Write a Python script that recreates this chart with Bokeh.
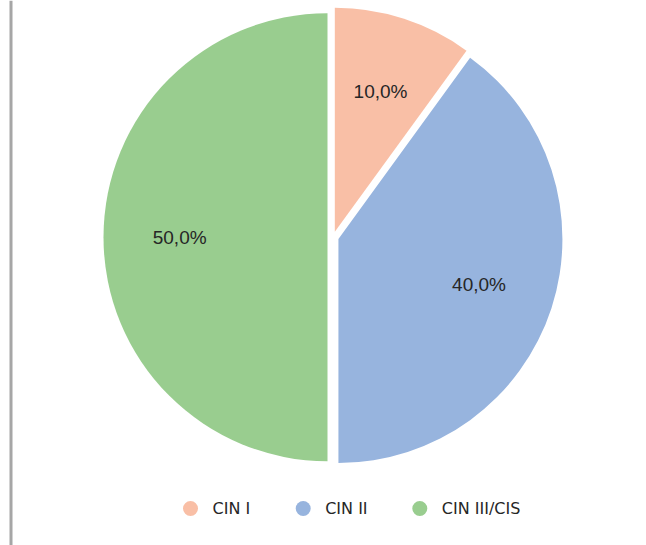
import math
from bokeh.plotting import figure
from bokeh.models import Range1d, Span, ColumnDataSource
from bokeh.core.properties import value
from bokeh.embed import file_html
from bokeh.resources import INLINE

# ---- data ----
categories = ["CIN I", "CIN II", "CIN III/CIS"]
values = [10.0, 40.0, 50.0]
labels = ["10,0%", "40,0%", "50,0%"]
colors = ["#F9BFA6", "#97B4DE", "#99CD8F"]

# ---- layout / style ----
W, H = 646, 545
CX, CY = 332.6, 308.3       # pie centre (data units = pixels)
R = 224.0                   # radius
EXPLODE = 5.6               # offset of each slice along its bisector
LABEL_R = 0.66              # label distance as a fraction of radius
LEGEND_Y = 37
LEGEND_X = [190.0, 302.7, 419.3]
TEXT_OFFSET = 22

p = figure(width=W, height=H, output_backend="svg", toolbar_location=None,
           x_range=Range1d(0, W), y_range=Range1d(0, H),
           x_axis_location=None, y_axis_location=None, min_border=0,
           outline_line_color=None, background_fill_color="white",
           border_fill_color="white")
p.grid.visible = False

total = sum(values)
xs, ys, starts, ends, lx, ly = [], [], [], [], [], []
cum = 0.0
for v in values:
    a0 = math.pi / 2 - 2 * math.pi * cum / total
    a1 = math.pi / 2 - 2 * math.pi * (cum + v) / total
    mid = (a0 + a1) / 2
    cx = CX + EXPLODE * math.cos(mid)
    cy = CY + EXPLODE * math.sin(mid)
    xs.append(cx); ys.append(cy)
    starts.append(a0); ends.append(a1)
    lx.append(cx + LABEL_R * R * math.cos(mid))
    ly.append(cy + LABEL_R * R * math.sin(mid))
    cum += v

src = ColumnDataSource(dict(x=xs, y=ys, start=starts, end=ends, color=colors,
                            lx=lx, ly=ly, label=labels, cat=categories))
p.wedge(x="x", y="y", radius=R, start_angle="start", end_angle="end",
        direction="clock", fill_color="color", line_color=None, source=src)
p.text(x="lx", y="ly", text="label", source=src,
       text_font=value("Liberation Sans"), text_font_size="19px",
       text_align="center", text_baseline="middle", text_color="#262626")

# legend
leg = ColumnDataSource(dict(x=LEGEND_X, y=[LEGEND_Y] * 3,
                            tx=[x + TEXT_OFFSET for x in LEGEND_X],
                            color=colors, cat=categories))
p.scatter(x="x", y="y", size=15, marker="circle", fill_color="color",
          line_color=None, source=leg)
p.text(x="tx", y="y", text="cat", source=leg,
       text_font=value("DejaVu Sans"), text_font_size="16px",
       text_align="left", text_baseline="middle", text_color="#262626")

# left border line
p.add_layout(Span(location=10.5, dimension="height", line_color="#A6A6A6",
                  line_width=3))

open("out.html", "w").write(file_html(p, INLINE))
